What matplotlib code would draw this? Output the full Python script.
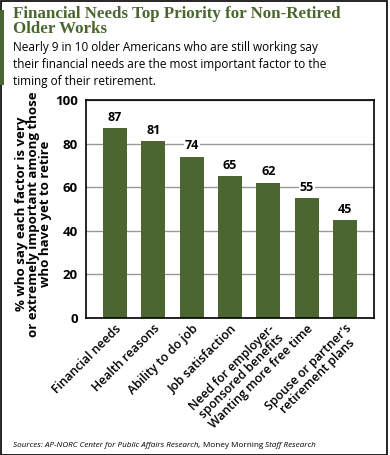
import matplotlib.pyplot as plt
from matplotlib.patches import Rectangle

factors = ["Financial needs", "Health reasons", "Ability to do job", "Job satisfaction",
           "Need for employer-\nsponsored benefits", "Wanting more free time",
           "Spouse or partner\u2019s\nretirement plans"]
values = [87, 81, 74, 65, 62, 55, 45]
yticks = [0, 20, 40, 60, 80, 100]

green = "#4b6630"
sans = "Open Sans"

fig = plt.figure(figsize=(3.9, 4.55), dpi=100)
W, H = 390, 455

# frame and accent bar
fig.add_artist(Rectangle((0.5 / W, 0.5 / H), 1 - 4 / W, 1 - 1.5 / H, transform=fig.transFigure,
                         fill=False, edgecolor="black", linewidth=1.2))
fig.add_artist(Rectangle((0, 1 - 85 / H), 4 / W, 75 / H, transform=fig.transFigure,
                         color=green, linewidth=0))

fig.text(13 / W, 1 - 6 / H, "Financial Needs Top Priority for Non-Retired\nOlder Works",
         family="Liberation Serif", fontweight="bold", fontsize=12.2, color=green,
         va="top", ha="left", linespacing=0.9)
fig.text(13 / W, 1 - 41 / H,
         "Nearly 9 in 10 older Americans who are still working say\n"
         "their financial needs are the most important factor to the\n"
         "timing of their retirement.",
         family=sans, fontsize=8.5, color="black", va="top", ha="left", linespacing=1.38)

ax = fig.add_axes([86 / W, 1 - 318 / H, 288 / W, 218 / H])
x = range(len(values))
ax.bar(x, values, width=0.63, color=green, zorder=2)
for i, v in zip(x, values):
    ax.text(i, v + 2, str(v), ha="center", va="bottom", family=sans, fontweight="bold",
            fontsize=9, bbox=dict(facecolor="white", edgecolor="none", pad=0.5), zorder=3)

ax.set_xlim(-0.75, 6.75)
ax.set_ylim(0, 100)
ax.set_yticks(yticks)
ax.yaxis.grid(True, color="#999999", linewidth=1, zorder=0)
ax.set_axisbelow(True)
ax.tick_params(axis="y", length=0, pad=6)
ax.tick_params(axis="x", length=0, pad=3)
for lab in ax.get_yticklabels():
    lab.set_family(sans)
    lab.set_fontweight("bold")
    lab.set_fontsize(9.5)
ax.set_xticks(list(x))
ax.set_xticklabels(factors, rotation=45, ha="right", rotation_mode="anchor",
                   family=sans, fontweight="semibold", fontsize=8.8, linespacing=0.95,
                   multialignment="center")
for s in ax.spines.values():
    s.set_linewidth(1.2)
ax.set_ylabel("% who say each factor is very\nor extremely important among those\nwho have yet to retire",
              family=sans, fontweight="bold", fontsize=9.5, linespacing=0.92)
ax.yaxis.set_label_coords(-0.118, 0.477)

t1 = fig.text(13 / W, 1 - 447 / H, "Sources: AP-NORC Center for Public Affairs Research, ",
              family=sans, style="italic", fontsize=5.85, va="baseline", ha="left")
t2 = fig.text(0, 0, "Money Morning ", family=sans, fontsize=5.85, va="baseline", ha="left")
t3 = fig.text(0, 0, "Staff Research", family=sans, style="italic", fontsize=5.85,
              va="baseline", ha="left")
fig.canvas.draw()
r = fig.canvas.get_renderer()
inv = fig.transFigure.inverted()
x1 = inv.transform((t1.get_window_extent(r).x1, 0))[0]
t2.set_position((x1, 1 - 447 / H))
fig.canvas.draw()
x2 = inv.transform((t2.get_window_extent(r).x1, 0))[0]
t3.set_position((x2, 1 - 447 / H))

fig.savefig("out.png", dpi=100)
